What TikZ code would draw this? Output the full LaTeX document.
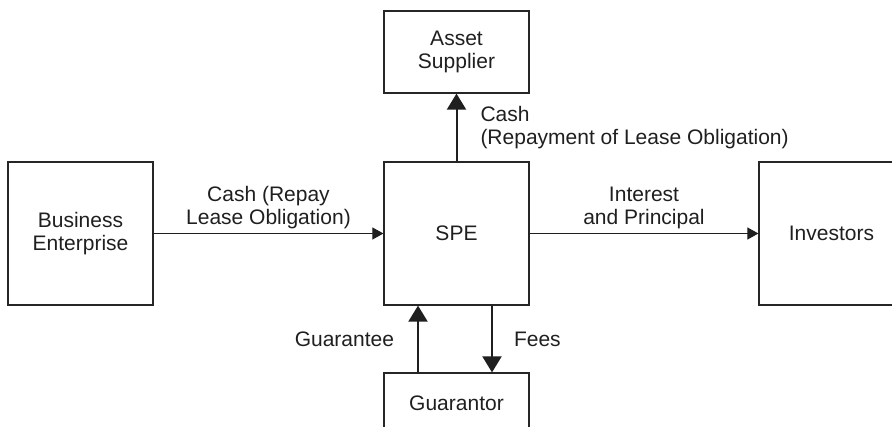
\documentclass[tikz,border=0pt]{standalone}
\usepackage{fontspec}
\setmainfont{Liberation Sans}
\usetikzlibrary{arrows.meta,positioning}

\begin{document}
\begin{tikzpicture}[x=1pt, y=1pt,
  box/.style={draw=black!85, line width=1.2pt, minimum width=145pt, align=center, inner sep=0pt, font=\fontsize{21}{23}\selectfont, text=black!88},
  lbl/.style={inner sep=0pt, font=\fontsize{21}{23}\selectfont, text=black!88},
  flowarrow/.style={draw=black!88, line width=1pt, -{Triangle[length=11pt,width=12pt]}},
  bigarrow/.style={draw=black!88, line width=2pt, -{Triangle[length=16pt,width=19pt]}}]
\useasboundingbox (0,0) rectangle (892,-427);
\node [box, minimum height=143pt] (be) at (80.5, -233.5) {Business\\Enterprise};
\node [box, minimum height=143pt] (spe) at (456.5, -233.5) {SPE};
\node [box, minimum height=143pt] (inv) at (831.5, -233.5) {Investors};
\node [box, minimum height=82pt] (sup) at (456.5, -52) {Asset\\Supplier};
\node [box, minimum height=60pt] (gua) at (456.5, -403) {Guarantor};
\draw [flowarrow] (be) -- (spe)
  node [lbl, midway, above=4.5pt, align=center] (repay) {Cash (Repay\\Lease Obligation)};
\draw [flowarrow] (spe) -- (inv)
  node [lbl, midway, above=4.5pt, align=center] (intprin) {Interest\\and Principal};
\draw [bigarrow] (spe) -- (sup)
  node [lbl, midway, right=23pt, align=left] (repayment) {Cash\\(Repayment of Lease Obligation)};
\draw [bigarrow] ([xshift=-38.5pt]gua.north) -- ([xshift=-38.5pt]spe.south)
  node [lbl, midway, left=23pt] (guarantee) {Guarantee};
\draw [bigarrow] ([xshift=35.5pt]spe.south) -- ([xshift=35.5pt]gua.north)
  node [lbl, midway, right=21pt] (fees) {Fees};
\end{tikzpicture}
\end{document}
